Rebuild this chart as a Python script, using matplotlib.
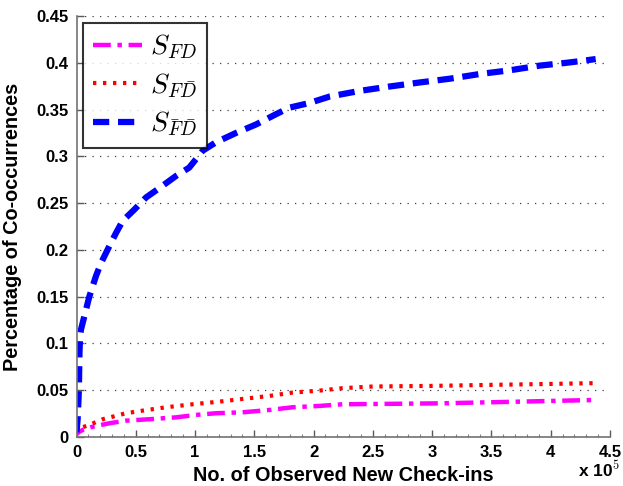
import matplotlib
matplotlib.use("Agg")
import matplotlib.pyplot as plt
from matplotlib.ticker import MultipleLocator, FuncFormatter

plt.rcParams['font.family'] = ['Liberation Sans', 'DejaVu Sans']
plt.rcParams['mathtext.fontset'] = 'cm'

# Number of observed new check-ins (units of 1e5)
x_fd = [0.0, 0.01, 0.024, 0.06, 0.137, 0.277, 0.417, 0.614, 0.839, 1.008, 1.176,
        1.401, 1.626, 1.823, 2.047, 2.245, 2.587, 3.065, 3.514, 4.02, 4.38]
s_fd = [0.015, 0.004, 0.0057, 0.008, 0.011, 0.0147, 0.0175, 0.019, 0.021, 0.0236, 0.0254,
        0.0264, 0.0289, 0.0318, 0.0332, 0.035, 0.0354, 0.036, 0.0372, 0.0386, 0.0396]

x_fdbar = [0.0, 0.01, 0.024, 0.108, 0.221, 0.417, 0.558, 0.755, 0.980, 1.204, 1.401,
           1.626, 1.823, 2.047, 2.245, 2.50, 2.98, 3.487, 4.02, 4.38]
s_fdbar = [0.012, 0.008, 0.0093, 0.0129, 0.019, 0.0254, 0.0282, 0.0318, 0.035, 0.0378, 0.0407,
           0.0439, 0.0475, 0.0496, 0.0522, 0.054, 0.0546, 0.0557, 0.0568, 0.0576]

x_fbdb = [0.0, 0.01, 0.02, 0.025, 0.03, 0.038, 0.066, 0.108, 0.164, 0.207, 0.277, 0.333,
          0.389, 0.487, 0.586, 0.698, 0.839, 0.951, 1.008, 1.064, 1.176, 1.345, 1.513,
          1.682, 1.794, 1.963, 2.137, 2.39, 2.643, 2.896, 3.149, 3.40, 3.655, 3.907,
          4.133, 4.26, 4.38]
s_fbdb = [0.005, 0.02, 0.05, 0.09, 0.108, 0.115, 0.129, 0.150, 0.172, 0.186, 0.204, 0.218,
          0.231, 0.243, 0.256, 0.266, 0.279, 0.288, 0.297, 0.306, 0.315, 0.325, 0.334,
          0.345, 0.352, 0.357, 0.364, 0.370, 0.3747, 0.379, 0.383, 0.388, 0.392, 0.397,
          0.400, 0.402, 0.404]

fig = plt.figure(figsize=(6.23, 4.86), dpi=100)
ax = fig.add_axes([0.1228, 0.1008, 0.979 - 0.1228, 0.967 - 0.1008])

ax.plot(x_fd, s_fd, color=(1, 0, 1), lw=3.2, linestyle=(0, (4, 1.5, 1, 1.5)),
        label=r'$S_{FD}$')
ax.plot(x_fdbar, s_fdbar, color=(1, 0, 0), lw=3.0, linestyle=(0, (0.8, 1.6)),
        label=r'$S_{F\bar{D}}$')
ax.plot(x_fbdb, s_fbdb, color=(0, 0, 1), lw=4.5, linestyle=(0, (2.6, 1.4)),
        label=r'$S_{\bar{F}\bar{D}}$')

ax.set_xlim(0, 4.5)
ax.set_ylim(0, 0.45)
ax.xaxis.set_major_locator(MultipleLocator(0.5))
ax.xaxis.set_minor_locator(MultipleLocator(0.1))
ax.yaxis.set_major_locator(MultipleLocator(0.05))
fmt = FuncFormatter(lambda v, p: ('%g' % round(v, 3)))
ax.xaxis.set_major_formatter(fmt)
ax.yaxis.set_major_formatter(fmt)

for side in ('top', 'right'):
    ax.spines[side].set_visible(False)
for side in ('left', 'bottom'):
    ax.spines[side].set_color('0.45')
    ax.spines[side].set_linewidth(1.2)

ax.tick_params(axis='both', which='major', direction='in', length=5, width=1,
               color='0.35', labelsize=12, pad=6)
ax.tick_params(axis='x', which='minor', direction='in', length=2.5, width=0.8, color='0.5')
ax.tick_params(axis='y', which='minor', left=False)
for lab in ax.get_xticklabels() + ax.get_yticklabels():
    lab.set_fontweight('bold')

ax.yaxis.grid(True, linestyle=(0, (1, 5)), color='0.25', lw=0.9)
ax.set_axisbelow(True)

ax.set_xlabel('No. of Observed New Check-ins', fontsize=14.3, fontweight='bold', labelpad=4)
ax.set_ylabel('Percentage of Co-occurrences', fontsize=14.3, fontweight='bold', labelpad=10)

fig.text(0.927, 0.012, r'x 10$^{5}$', fontsize=12.5, fontweight='bold', ha='left', va='bottom')

leg = ax.legend(loc='upper left', fontsize=20, handlelength=1.75, frameon=True,
                fancybox=False, borderaxespad=0.25, labelspacing=0.35,
                borderpad=0.35, handletextpad=0.3)
leg.get_frame().set_edgecolor('black')
leg.get_frame().set_linewidth(1.5)

fig.savefig('out.png', dpi=100)
